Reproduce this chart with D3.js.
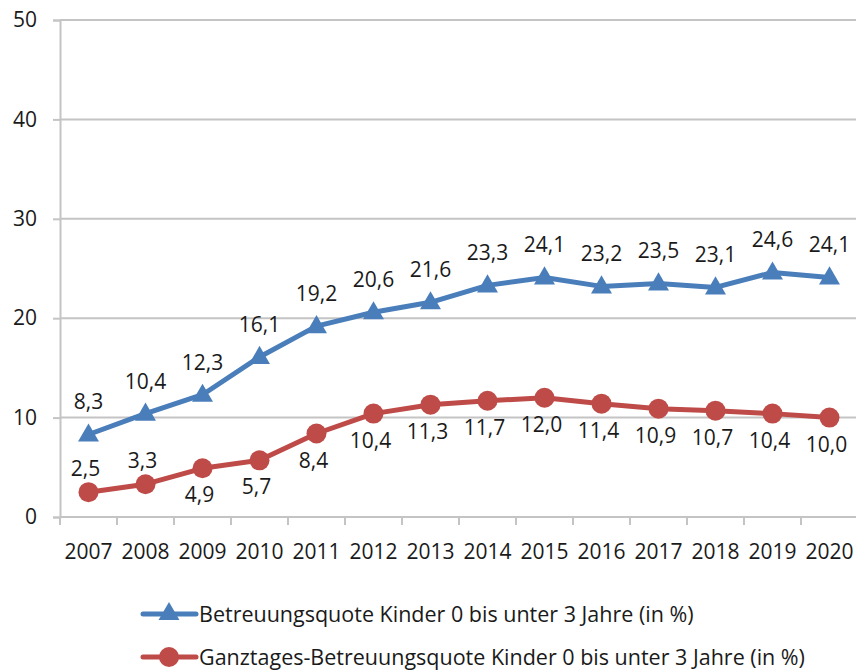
<!DOCTYPE html>
<html>
<head>
<meta charset="utf-8">
<script src="https://cdn.jsdelivr.net/npm/d3@7"></script>
<style>
  body { margin: 0; background: #fff; }
  text { font-family: "Open Sans", sans-serif; fill: #1a1a1a; }
</style>
</head>
<body>
<svg id="mainsvg" width="856" height="671"></svg>
<script>
const years = [2007, 2008, 2009, 2010, 2011, 2012, 2013, 2014, 2015, 2016, 2017, 2018, 2019, 2020];
const betreuung = [8.3, 10.4, 12.3, 16.1, 19.2, 20.6, 21.6, 23.3, 24.1, 23.2, 23.5, 23.1, 24.6, 24.1];
const ganztags = [2.5, 3.3, 4.9, 5.7, 8.4, 10.4, 11.3, 11.7, 12.0, 11.4, 10.9, 10.7, 10.4, 10.0];
// red labels above the point for the first two years, below afterwards
const ganztagsAbove = [true, true, false, false, false, false, false, false, false, false, false, false, false, false];
const yTicks = [0, 10, 20, 30, 40, 50];
const seriesNames = [
    'Betreuungsquote Kinder 0 bis unter 3 Jahre (in %)',
    'Ganztages-Betreuungsquote Kinder 0 bis unter 3 Jahre (in %)'
];

const svg = d3.select('#mainsvg');
const blue = '#4A7EBB';
const red = '#BE4B48';
const grid = '#C4C4C4';
const fs = 21;

const x = d3.scaleBand().domain(years).range([60, 858]);
const y = d3.scaleLinear().domain([0, 50]).range([517, 20]);
const cx = d => x(d) + x.bandwidth() / 2;
const fmt = v => v.toFixed(1).replace('.', ',');

// gridlines
svg.append('g').selectAll('line').data(yTicks.filter(t => t > 0)).enter()
    .append('line')
    .attr('x1', 60).attr('x2', 858)
    .attr('y1', d => y(d)).attr('y2', d => y(d))
    .attr('stroke', grid).attr('stroke-width', 2);

// y axis
const yAxis = svg.append('g').attr('transform', 'translate(60,0)')
    .call(d3.axisLeft(y).tickValues(yTicks).tickSize(7).tickPadding(16).tickFormat(d3.format('d')));
yAxis.select('.domain').attr('stroke', grid).attr('stroke-width', 2);
yAxis.selectAll('.tick line').attr('stroke', grid).attr('stroke-width', 2);
yAxis.selectAll('.tick text').attr('font-size', fs).attr('font-family', '"Open Sans", sans-serif').attr('fill', '#1a1a1a');

// x axis: ticks at category boundaries
const xg = svg.append('g');
xg.append('line').attr('x1', 60).attr('x2', 858).attr('y1', y(0)).attr('y2', y(0))
    .attr('stroke', grid).attr('stroke-width', 2);
xg.selectAll('line.tk').data(years).enter().append('line').attr('class', 'tk')
    .attr('x1', d => x(d)).attr('x2', d => x(d))
    .attr('y1', y(0)).attr('y2', y(0) + 8)
    .attr('stroke', grid).attr('stroke-width', 2);
xg.selectAll('text').data(years).enter().append('text')
    .attr('x', d => cx(d)).attr('y', 559)
    .attr('text-anchor', 'middle').attr('font-size', fs)
    .text(d => d);

const line = d3.line().x((d, i) => cx(years[i])).y(d => y(d));
const tri = d3.symbol().type(d3.symbolTriangle).size(190);

// series 1
svg.append('path').datum(betreuung).attr('d', line)
    .attr('fill', 'none').attr('stroke', blue).attr('stroke-width', 5).attr('stroke-linejoin', 'round');
svg.append('g').selectAll('path').data(betreuung).enter().append('path')
    .attr('d', tri)
    .attr('transform', (d, i) => `translate(${cx(years[i])},${y(d) + 1})`)
    .attr('fill', blue);
svg.append('g').selectAll('text').data(betreuung).enter().append('text')
    .attr('x', (d, i) => cx(years[i]))
    .attr('y', d => y(d) - 25)
    .attr('text-anchor', 'middle').attr('font-size', fs)
    .text(d => fmt(d));

// series 2
svg.append('path').datum(ganztags).attr('d', line)
    .attr('fill', 'none').attr('stroke', red).attr('stroke-width', 5).attr('stroke-linejoin', 'round');
svg.append('g').selectAll('circle').data(ganztags).enter().append('circle')
    .attr('cx', (d, i) => cx(years[i])).attr('cy', d => y(d)).attr('r', 10)
    .attr('fill', red);
svg.append('g').selectAll('text').data(ganztags).enter().append('text')
    .attr('x', (d, i) => cx(years[i]) - 3)
    .attr('y', (d, i) => ganztagsAbove[i] ? y(d) - 16 : y(d) + 34)
    .attr('text-anchor', 'middle').attr('font-size', fs)
    .text(d => fmt(d));

// legend
const legend = svg.append('g');
const legY = [614, 657];
[blue, red].forEach((c, i) => {
    const gy = legY[i];
    legend.append('line').attr('x1', 143).attr('x2', 196).attr('y1', gy).attr('y2', gy)
        .attr('stroke', c).attr('stroke-width', 5).attr('stroke-linecap', 'round');
    if (i === 0) {
        legend.append('path').attr('d', tri).attr('transform', `translate(169,${gy})`).attr('fill', c);
    } else {
        legend.append('circle').attr('cx', 169).attr('cy', gy).attr('r', 10).attr('fill', c);
    }
    legend.append('text').attr('x', 199).attr('y', gy + 8).attr('font-size', 21.5).text(seriesNames[i]);
});
</script>
</body>
</html>
